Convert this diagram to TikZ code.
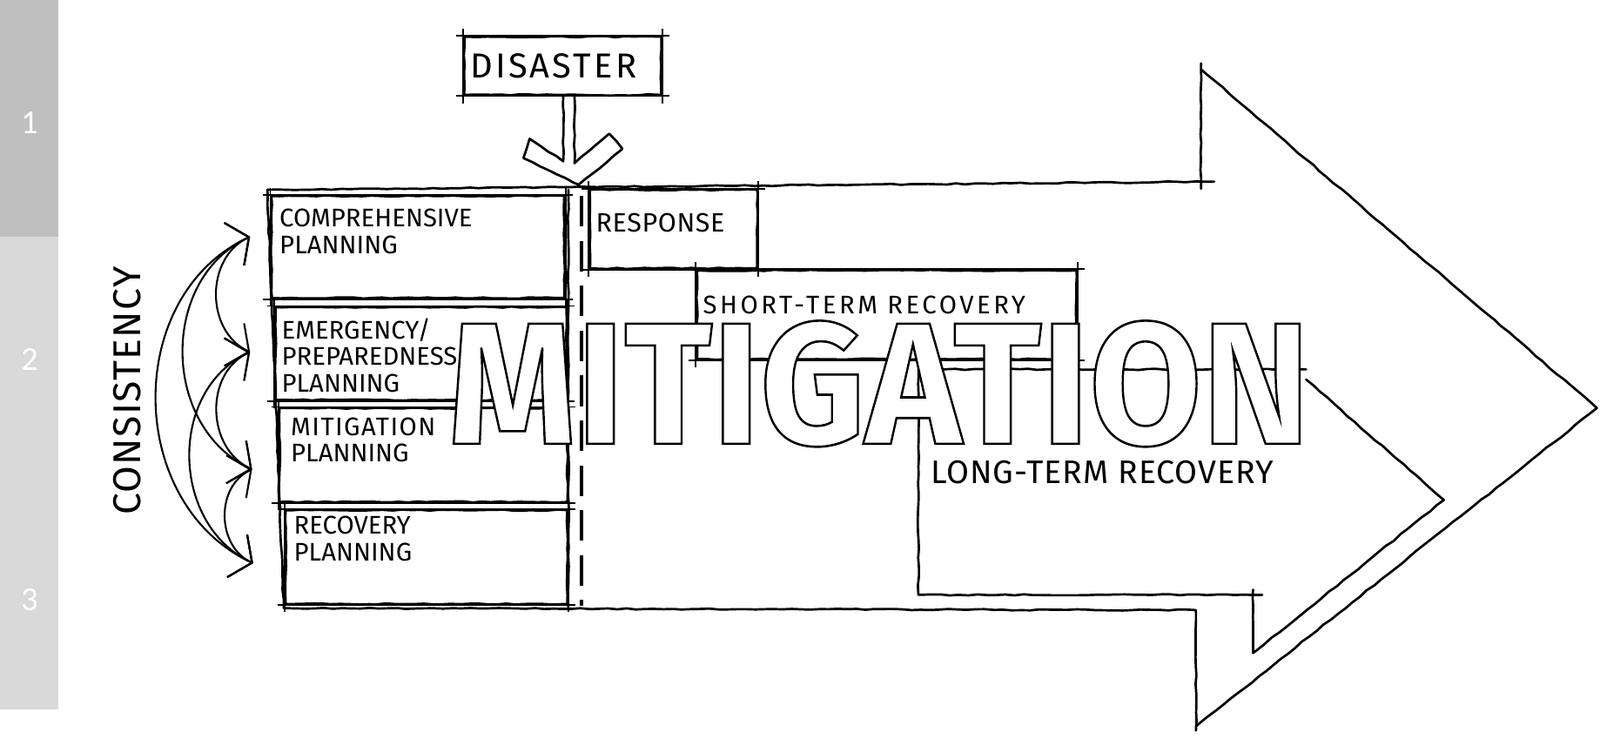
\documentclass[tikz,border=0pt]{standalone}
\usepackage{fontspec}
\setmainfont{Fira Sans}
\newfontfamily\numfont{Carlito}
\usetikzlibrary{positioning,arrows.meta,decorations.pathmorphing}
% white letters with a black outline
\newcommand\outl[1]{\special{pdf:literal direct 2 Tr 2.2 w 1 g 0 G}#1\special{pdf:literal direct 0 Tr 0 g 0 G}}
\newcommand\spaced[2]{\addfontfeatures{LetterSpace=#1}#2}
\tikzset{
  pen/.style={line width=2.3pt, line join=round, line cap=round, decorate,
    decoration={random steps, segment length=9pt, amplitude=0.6pt}},
  box/.style={pen, draw, inner sep=0pt},
  lbl/.style={inner sep=0pt, align=left, font=\fontsize{25}{26}\selectfont},
  cons/.style={line width=1.8pt, <->, >={Straight Barb[length=16pt,width=46pt]},
    out=205, in=155, looseness=1.1},
}

\begin{document}
\begin{tikzpicture}[x=1pt,y=1pt]
\useasboundingbox (0,0) rectangle (1568,724);
% side bar
\fill[black!25] (0,492) rectangle (57,724);
\fill[black!15] (0,29) rectangle (57,492);
\foreach \n/\y in {1/604,2/372,3/136}
  \node[text=white, font=\numfont\fontsize{33}{33}\selectfont] (num\n) at (29,\y) {\n};

% disaster
\node[box, minimum width=193, minimum height=57] (dis) at (551.5,659.5) {};
\node[lbl, font=\fontsize{34}{34}\selectfont, right=7pt of dis.west] (distxt) {\spaced{8}{DISASTER}};
\draw[pen] ([xshift=0.5pt]dis.south) -- ++(0,-64) -- (519,588) -- (513,569) -- (567,543)
  -- (610,578) -- (597,593) -- (563,564) -- ([xshift=11.5pt]dis.south);

% big arrow
\draw[pen] (262,538) -- (1190,546);
\draw[pen] (1177,539) -- (1177,662);
\draw[pen] (1177,656) -- (1565,324) -- (1172,12);
\draw[pen] (1172,8) -- (1172,126) -- (278,128) -- (262,538);

% long-term recovery
\draw[pen] (1280,352) -- (1415,234) -- (1228,84) -- (1228,146);
\draw[pen] (1237,141) -- (900,141) -- (900,362) -- (1280,362);
\node[lbl, font=\fontsize{32}{32}\selectfont, anchor=west] (longtxt) at (912,261) {\spaced{2.5}{LONG-TERM RECOVERY}};

% response and short-term recovery
\node[box, minimum width=164, minimum height=77] (resp) at (660,499.5) {};
\node[lbl, font=\fontsize{26}{26}\selectfont, below right=24pt and 7pt of resp.north west] (resptxt) {\spaced{2}{RESPONSE}};
\node[box, minimum width=372, minimum height=87] (short) at (869,415.5) {};
\node[lbl, below right=26pt and 7pt of short.north west] (shorttxt) {\spaced{12}{SHORT-TERM RECOVERY}};

% planning boxes
\foreach \nm/\x/\y/\w/\h in {comp/409.5/482/287/100, emerg/412.5/377.5/285/91,
    mitplan/415/278/282/92, recplan/418/178/276/92}
  \node[box, minimum width=\w, minimum height=\h] (\nm) at (\x,\y) {};
\node[lbl, below right=14pt and 9pt of comp.north west] (comptxt) {COMPREHENSIVE\\PLANNING};
\node[lbl, below right=12pt and 7pt of emerg.north west] (emergtxt) {EMERGENCY/\\PREPAREDNESS\\PLANNING};
\node[lbl, below right=10pt and 12pt of mitplan.north west] (mitplantxt) {\spaced{5}{MITIGATION}\\PLANNING};
\node[lbl, below right=7pt and 9pt of recplan.north west] (recplantxt) {RECOVERY\\PLANNING};

\foreach \b in {dis,resp,short,comp,emerg,mitplan,recplan}
  \draw[line width=1.6pt] ([xshift=-7pt]\b.north west) -- ([xshift=7pt]\b.north east)
    ([xshift=-7pt]\b.south west) -- ([xshift=7pt]\b.south east)
    ([yshift=7pt]\b.north west) -- ([yshift=-7pt]\b.south west)
    ([yshift=7pt]\b.north east) -- ([yshift=-7pt]\b.south east);

\draw[pen] (557,538) -- (557,128);
\draw[line width=3.5pt, dash pattern=on 30pt off 14pt] (570,532) -- (570,130);

% consistency
\coordinate (c1) at (245,492);
\coordinate (c2) at (245,379);
\coordinate (c3) at (247,264);
\coordinate (c4) at (248,172);
\foreach \a/\b in {1/2,1/3,1/4,2/3,2/4,3/4}
  \draw[cons] (c\a) to (c\b);
\node[font=\fontsize{38}{38}\selectfont, rotate=90] (constxt) at (125,341) {\spaced{3}{CONSISTENCY}};

% title
\node[inner sep=0pt, anchor=base, font=\fontsize{170}{170}\selectfont\bfseries] (mitig)
  at (861.5,289) {\scalebox{0.94}[1]{\outl{MITIGATION}}};
\end{tikzpicture}
\end{document}
